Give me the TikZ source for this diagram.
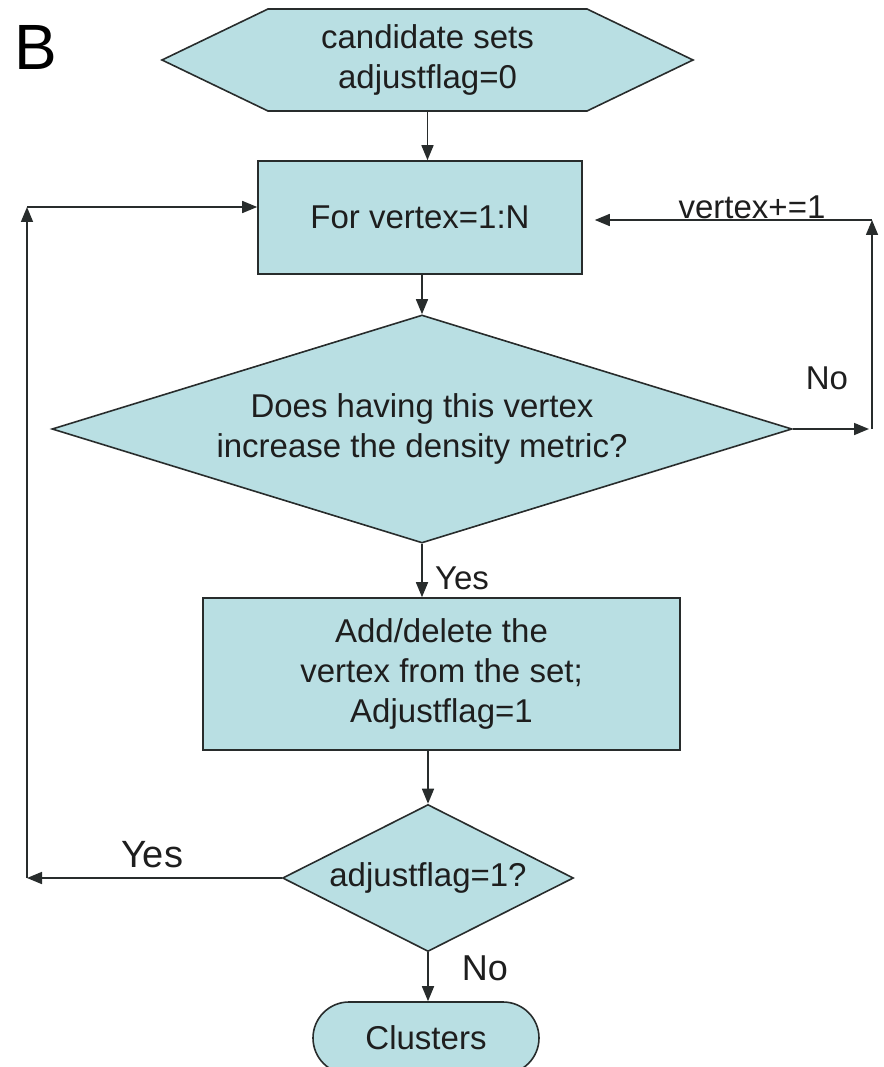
\documentclass[tikz,border=0pt]{standalone}
\usepackage{fontspec}
\setmainfont{Liberation Sans}
\usetikzlibrary{arrows.meta,shapes.geometric}
\definecolor{boxfill}{RGB}{185,223,227}
\definecolor{edge}{RGB}{40,44,44}
\definecolor{txt}{RGB}{30,30,30}
\tikzset{
  every node/.style={text=txt, font=\fontsize{33}{40}\selectfont},
  shapebox/.style={fill=boxfill, draw=edge, line width=1.6pt},
  procbox/.style={shapebox, rectangle, inner sep=0pt, align=center},
  decbox/.style={shapebox, diamond, aspect=3, inner sep=0pt, align=center},
  termbox/.style={shapebox, rectangle, rounded corners=36pt, inner sep=0pt, align=center},
  conn/.style={draw=edge, line width=1.6pt, -{Triangle[length=15pt,width=12pt]}},
  lab/.style={inner sep=0pt},
}
\begin{document}
\begin{tikzpicture}[x=1pt,y=-1pt]
\useasboundingbox (0,0) rectangle (883,1067);
\clip (0,0) rectangle (883,1067);
% label
\node[lab, font=\fontsize{64}{64}\selectfont, text=black] (lblB) at (36,47) {B};
% start hexagon
\path[shapebox] (162,60) -- (268,9) -- (587,9) -- (693,60) -- (587,111) -- (268,111) -- cycle;
\node[inner sep=0pt, minimum width=531pt, minimum height=102pt, align=center] (start) at (427.5,60) {candidate sets\\adjustflag=0};
% process nodes
\node[procbox, minimum width=324pt, minimum height=113pt] (for) at (420,217.5) {For vertex=1:N};
\node[decbox, minimum width=740pt, minimum height=228pt] (dia) at (422,429) {Does having this vertex\\increase the density metric?};
\node[procbox, minimum width=477pt, minimum height=152pt] (add) at (441.5,674) {Add/delete the\\vertex from the set;\\Adjustflag=1};
\node[decbox, minimum width=291pt, minimum height=147pt] (dia2) at (428,878) {adjustflag=1?};
\node[termbox, minimum width=226pt, minimum height=72pt] (clus) at (426,1038) {Clusters};
% loop corners
\coordinate (yl) at (27,878);
\coordinate (yt) at (27,207);
\coordinate (nr) at (872,429);
\coordinate (nt) at (872,220);
% main flow
\draw[conn] (start.south) -- (start.south |- for.north);
\draw[conn] (dia.north |- for.south) -- (dia.north);
\draw[conn] (dia.south) -- (dia.south |- add.north);
\draw[conn] (dia2.north |- add.south) -- (dia2.north);
\draw[conn] (dia2.south) -- (dia2.south |- clus.north);
% yes loop
\draw[conn] (dia2.west) -- (yl);
\draw[conn] (yl) -- (yt);
\draw[conn] (yt) -- (yt -| for.west);
% no loop
\draw[conn, shorten >=3pt] (dia.east) -- (nr);
\draw[conn] (nr) -- (nt);
\draw[conn, shorten >=12pt] (nt) -- (nt -| for.east);
% labels
\node[lab, anchor=base] (lvtx) at (752,219) {vertex+=1};
\node[lab] (lno1) at (827,378) {No};
\node[lab] (lyes1) at (462,578) {Yes};
\node[lab, font=\fontsize{38}{40}\selectfont] (lyes2) at (152,855) {Yes};
\node[lab, font=\fontsize{36}{40}\selectfont] (lno2) at (485,968) {No};
\end{tikzpicture}
\end{document}
